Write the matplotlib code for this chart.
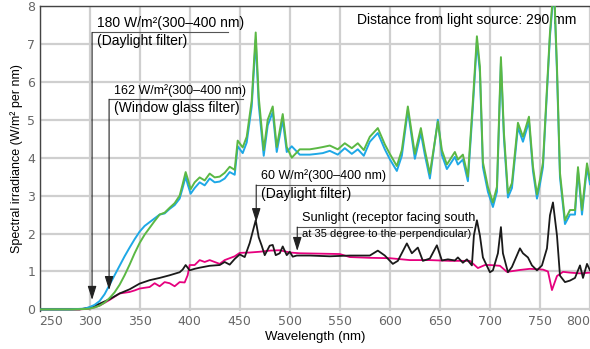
import numpy as np
import matplotlib
matplotlib.use('Agg')
import matplotlib.pyplot as plt

# --- data ---
# xenon lamp, daylight filter (180 W/m2) and window glass filter (162 W/m2)
wl_lamp = [250, 280, 295, 300, 305, 310, 315, 320, 325, 330, 335, 340, 345, 350, 355, 360, 365, 370,
           375, 380, 385, 390, 393, 396, 398, 401, 405, 410, 415, 420, 425, 430, 435, 440, 445, 448,
           453, 457, 462, 466, 469, 474, 478, 483, 487, 493, 497, 502, 510, 520, 527, 533, 540, 548,
           555, 562, 568, 574, 580, 588, 595, 600, 607, 612, 618, 625, 631, 635, 640, 648, 652, 657,
           665, 668, 673, 678, 683, 687, 690, 693, 698, 703, 707, 711, 714, 718, 722, 728, 733, 739,
           743, 747, 750, 753, 760, 764, 767, 770, 775, 780, 785, 788, 792, 797, 800]
daylight_180 = [0, 0, 0.01, 0.02, 0.05, 0.1, 0.18, 0.3, 0.45, 0.65, 0.9, 1.18, 1.48, 1.75, 1.97, 2.15,
                2.33, 2.5, 2.55, 2.68, 2.8, 3.0, 3.3, 3.62, 3.45, 3.17, 3.35, 3.48, 3.4, 3.58, 3.48,
                3.5, 3.6, 3.76, 3.68, 4.45, 4.27, 4.55, 5.5, 7.3, 5.6, 4.2, 5.0, 5.35, 4.28, 5.15,
                4.28, 4.0, 4.22, 4.22, 4.25, 4.28, 4.32, 4.22, 4.38, 4.25, 4.38, 4.2, 4.55, 4.78,
                4.35, 4.1, 3.78, 4.2, 5.35, 4.1, 4.78, 4.2, 3.58, 4.95, 4.2, 3.82, 4.15, 3.95, 4.08,
                3.5, 5.5, 7.2, 6.4, 3.88, 3.23, 2.82, 3.23, 6.65, 4.65, 3.07, 3.33, 4.92, 4.55, 5.08,
                3.77, 3.03, 3.42, 3.87, 7.3, 8.6, 6.4, 3.6, 2.35, 2.62, 2.62, 3.75, 2.62, 3.85, 3.42]
window_162 = [0, 0, 0.02, 0.06, 0.12, 0.22, 0.4, 0.65, 0.9, 1.15, 1.4, 1.63, 1.85, 2.05, 2.2, 2.3,
              2.4, 2.5, 2.53, 2.65, 2.75, 2.92, 3.2, 3.5, 3.3, 3.05, 3.2, 3.35, 3.27, 3.45, 3.35,
              3.37, 3.45, 3.62, 3.55, 4.3, 4.12, 4.4, 5.35, 7.1, 5.4, 4.05, 4.85, 5.2, 4.15, 5.0,
              4.15, 4.3, 4.08, 4.08, 4.1, 4.12, 4.18, 4.08, 4.25, 4.1, 4.22, 4.05, 4.42, 4.65,
              4.22, 3.96, 3.65, 4.05, 5.25, 3.97, 4.65, 4.07, 3.45, 5.0, 4.07, 3.7, 4.02, 3.82,
              3.95, 3.38, 5.35, 7.05, 6.25, 3.75, 3.1, 2.7, 3.1, 6.5, 4.52, 2.95, 3.2, 4.8, 4.42,
              4.95, 3.65, 2.92, 3.3, 3.75, 7.2, 8.5, 6.25, 3.48, 2.25, 2.5, 2.5, 3.65, 2.5, 3.75, 3.3]

# xenon lamp, daylight filter at 60 W/m2
wl_xe = [250, 290, 300, 310, 320, 330, 340, 350, 360, 370, 380, 390, 393, 396, 400, 405, 410, 420,
         430, 435, 440, 445, 450, 455, 460, 464, 466, 469, 472, 475, 480, 483, 486, 490, 493, 497,
         500, 503, 507, 520, 540, 560, 580, 588, 595, 603, 608, 617, 622, 628, 633, 640, 647, 652,
         658, 665, 668, 673, 677, 682, 684, 687, 690, 693, 700, 703, 708, 711, 713, 718, 722, 730,
         733, 738, 742, 747, 752, 757, 760, 763, 767, 770, 775, 780, 785, 790, 793, 797, 800]
daylight_60 = [0, 0, 0.05, 0.15, 0.27, 0.42, 0.53, 0.68, 0.77, 0.83, 0.9, 0.98, 1.05, 1.17, 1.03,
               1.07, 1.1, 1.15, 1.17, 1.25, 1.18, 1.33, 1.45, 1.38, 1.75, 2.15, 2.35, 1.9, 1.68,
               1.43, 1.68, 1.7, 1.43, 1.48, 1.66, 1.43, 1.52, 1.39, 1.42, 1.42, 1.4, 1.42, 1.42,
               1.55, 1.42, 1.2, 1.28, 1.74, 1.48, 1.63, 1.28, 1.34, 1.69, 1.29, 1.32, 1.29, 1.37,
               1.23, 1.32, 1.16, 1.95, 2.35, 1.95, 1.37, 0.98, 1.03, 1.48, 2.17, 1.48, 0.98, 1.12,
               1.61, 1.48, 1.37, 1.16, 1.03, 1.16, 1.61, 2.48, 2.82, 1.95, 0.89, 0.72, 0.76, 0.83,
               1.16, 0.83, 1.2, 1.03]

# sunlight
wl_sun = [250, 290, 300, 310, 320, 330, 340, 345, 350, 360, 365, 370, 375, 380, 385, 390, 395, 398,
          400, 405, 410, 415, 420, 425, 430, 435, 440, 445, 450, 460, 470, 480, 490, 500, 510, 530,
          550, 560, 580, 600, 620, 640, 660, 680, 688, 695, 700, 710, 717, 725, 730, 740, 753, 758,
          762, 767, 773, 780, 790, 800]
sunlight = [0, 0, 0.02, 0.1, 0.25, 0.42, 0.46, 0.5, 0.55, 0.59, 0.69, 0.61, 0.72, 0.69, 0.61, 0.72,
            0.71, 0.9, 1.17, 1.17, 1.3, 1.25, 1.3, 1.25, 1.2, 1.3, 1.35, 1.4, 1.49, 1.5, 1.52, 1.55,
            1.56, 1.5, 1.48, 1.47, 1.46, 1.38, 1.36, 1.35, 1.3, 1.3, 1.28, 1.28, 1.09, 1.17, 1.17,
            1.15, 0.99, 1.02, 1.04, 1.07, 1.05, 1.0, 0.51, 0.88, 0.99, 0.97, 0.95, 0.97]

x_ticks = [250, 300, 350, 400, 450, 500, 550, 600, 650, 700, 750, 800]
y_ticks = [0, 1, 2, 3, 4, 5, 6, 7, 8]

plt.rcParams['font.family'] = ['Liberation Sans', 'DejaVu Sans']

fig = plt.figure(figsize=(5.9, 3.49), dpi=100)
ax = fig.add_axes([0.067, 0.108, 0.933, 0.875])

ax.plot(wl_sun, sunlight, color='#e6007e', lw=1.3, zorder=3)
ax.plot(wl_xe, daylight_60, color='#1a1a1a', lw=1.3, zorder=4)
ax.plot(wl_lamp, window_162, color='#1ea8e6', lw=1.4, zorder=5)
ax.plot(wl_lamp, daylight_180, color='#5bb844', lw=1.4, zorder=6)

ax.set_xlim(250, 800)
ax.set_ylim(-0.05, 8)
ax.set_xticks(x_ticks)
ax.set_yticks(y_ticks)
ax.grid(True, color='#cfcfcf', lw=1.6, zorder=0)
ax.set_axisbelow(True)
ax.tick_params(length=0, labelsize=9, labelcolor='#666666', pad=3)
for lab in ax.get_xticklabels() + ax.get_yticklabels():
    lab.set_family('DejaVu Sans')
xl = ax.get_xticklabels()
xl[0].set_ha('left')
xl[-1].set_ha('right')

for s in ['right', 'bottom']:
    ax.spines[s].set_visible(False)
for s in ['left', 'top']:
    ax.spines[s].set_color('#444444')
    ax.spines[s].set_linewidth(1.0)

ax.set_xlabel('Wavelength (nm)', fontsize=9.5, labelpad=2)
ax.set_ylabel('Spectral irradiance (W/m\u00b2 per nm)', fontsize=9, labelpad=3)

# callouts: (arrow x, line y, line end x, arrow tip y)
def callout(x0, yl, x1, ytip, top, bottom, fs_top, fs_bot):
    ax.plot([x0, x1], [yl, yl], color='#555555', lw=0.8, zorder=7)
    ax.annotate('', xy=(x0, ytip), xytext=(x0, yl),
                arrowprops=dict(arrowstyle='-|>,head_length=0.7,head_width=0.22',
                                color='#222222', lw=0.8, shrinkA=0, shrinkB=0,
                                mutation_scale=12), zorder=8)
    ax.text(x0 + 4.5, yl + 0.07, top, fontsize=fs_top, va='bottom', ha='left', zorder=8)
    ax.text(x0 + 4.5, yl - 0.05, bottom, fontsize=fs_bot, va='top', ha='left', zorder=8)

callout(302.5, 7.30, 438.5, 0.25, '180 W/m\u00b2(300\u2013400 nm)', '(Daylight filter)', 10, 10)
callout(319.5, 5.54, 453.5, 0.51, '162 W/m\u00b2(300\u2013400 nm)', '(Window glass filter)', 9, 10)
callout(466.5, 3.28, 673.5, 2.30, '60 W/m\u00b2(300\u2013400 nm)', '(Daylight filter)', 9, 10)
callout(507.5, 2.17, 682.5, 1.54, 'Sunlight (receptor facing south',
        'at 35 degree to the perpendicular)', 9.2, 8)

ax.text(786.5, 7.62, 'Distance from light source: 290 mm', fontsize=10, ha='right', va='center')

fig.savefig('out.png', dpi=100)
